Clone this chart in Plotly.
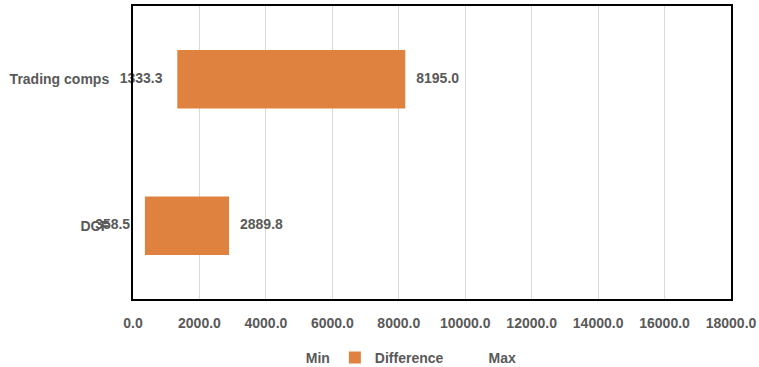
import plotly.graph_objects as go

categories = ["DCF", "Trading comps"]
min_vals = [358.5, 1333.3]
max_vals = [2889.8, 8195.0]
diff_vals = [mx - mn for mn, mx in zip(min_vals, max_vals)]

orange = "#E0823F"
txt = dict(family="Liberation Sans", size=14, color="#595959", weight="bold")

fig = go.Figure()
fig.add_trace(go.Scatter(
    name="Min", x=min_vals, y=categories, mode="markers+text",
    text=[f"{v:.1f}" for v in min_vals], textposition="middle left",
    marker=dict(size=22, color="rgba(0,0,0,0)"),
    textfont=txt, showlegend=True, cliponaxis=False,
))
fig.add_trace(go.Bar(
    name="Difference", y=categories, x=diff_vals, base=min_vals,
    orientation="h", marker=dict(color=orange, line=dict(width=0)),
))
fig.add_trace(go.Scatter(
    name="Max", x=max_vals, y=categories, mode="markers+text",
    text=[f"{v:.1f}" for v in max_vals], textposition="middle right",
    marker=dict(size=16, color="rgba(0,0,0,0)"),
    textfont=txt, showlegend=True, cliponaxis=False,
))

fig.update_layout(
    width=759, height=367,
    margin=dict(l=133, r=28, t=6, b=68, autoexpand=False),
    paper_bgcolor="white", plot_bgcolor="white",
    bargap=0.6,
    showlegend=True,
    legend=dict(orientation="h", x=0.222, xanchor="left",
                yref="container", y=0.025, yanchor="middle",
                font=txt, traceorder="normal"),
    xaxis=dict(range=[0, 18000], dtick=2000, tickformat=".1f",
               showgrid=True, gridcolor="#D9D9D9", gridwidth=1,
               showline=True, mirror=True, linecolor="black", linewidth=2,
               zeroline=False, ticks="", ticklabelstandoff=10, automargin=False,
               tickfont=txt),
    yaxis=dict(showgrid=False, showline=True, mirror=True, linecolor="black", linewidth=2,
               ticks="", ticklabelstandoff=19, automargin=False,
               tickfont=txt),
    hovermode=False,
)

fig.write_html("out.html")
